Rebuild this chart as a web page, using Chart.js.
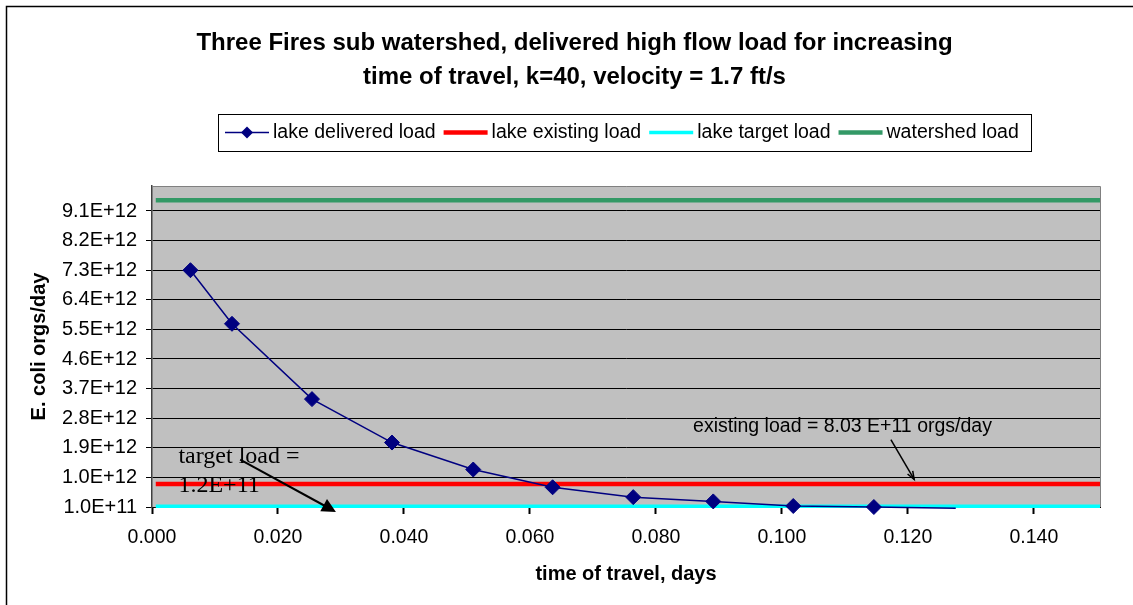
<!DOCTYPE html>
<html>
<head>
<meta charset="utf-8">
<title>Three Fires sub watershed</title>
<script src="https://cdn.jsdelivr.net/npm/chart.js@4.4.1/dist/chart.umd.min.js"></script>
<style>
  html, body { margin: 0; padding: 0; background: #fff; }
</style>
</head>
<body>
<canvas id="chart" width="1133" height="605"></canvas>
<script>
// values
const travelDays = [0.0061, 0.0127, 0.0254, 0.0381, 0.0510, 0.0636, 0.0764, 0.0891, 0.1018, 0.1146, 0.1276];
const deliveredLoad = [7.30e12, 5.67e12, 3.38e12, 2.06e12, 1.24e12, 0.70e12, 0.40e12, 0.27e12, 0.13e12, 0.10e12, 0.06e12];
const lineSpan = [0.0006, 0.1505];
const existingLoad = 8.03e11;
const targetLoad = 1.2e11;
const watershedLoad = 9.43e12;

const yTicks = [1.0e11, 1.0e12, 1.9e12, 2.8e12, 3.7e12, 4.6e12, 5.5e12, 6.4e12, 7.3e12, 8.2e12, 9.1e12];
const yTickLabels = ['1.0E+11', '1.0E+12', '1.9E+12', '2.8E+12', '3.7E+12', '4.6E+12', '5.5E+12', '6.4E+12', '7.3E+12', '8.2E+12', '9.1E+12'];
const xTicks = [0, 0.02, 0.04, 0.06, 0.08, 0.10, 0.12, 0.14];
const xTickLabels = ['0.000', '0.020', '0.040', '0.060', '0.080', '0.100', '0.120', '0.140'];

const yMin = 1.0e11;
const yMax = 9.86e12;
const xMin = 0;
const xMax = 0.1505;

const titleLines = ['Three Fires sub watershed, delivered high flow load for increasing', 'time of travel, k=40, velocity = 1.7 ft/s'];
const SANS = '"Liberation Sans", Arial, sans-serif';
const SERIF = '"Liberation Serif", "Times New Roman", serif';

// notes on the plot, anchored in data units
const targetNote = { lines: ['target load =', '1.2E+11'], x: 0.0042, y: [1.43e12, 0.56e12] };
const targetArrow = { from: [0.0140, 1.54e12], to: [0.0292, -0.05e12] };
const existingNote = { text: 'existing load = 8.03 E+11 orgs/day', x: 0.0859, y: 2.37e12 };
const existingArrow = { from: [0.1173, 2.15e12], to: [0.1210, 0.94e12] };

const toPoints = (xs, ys) => xs.map((x, i) => ({ x: x, y: ys[i] }));
const flat = (v) => lineSpan.map(x => ({ x: x, y: v }));

const plotBackground = {
  id: 'plotBackground',
  beforeDraw(chart) {
    const { ctx, chartArea: a } = chart;
    ctx.save();
    ctx.fillStyle = '#c0c0c0';
    ctx.fillRect(a.left, a.top, a.right - a.left, a.bottom - a.top);
    ctx.restore();
  }
};

function arrowHead(ctx, x0, y0, x1, y1, len, half, filled) {
  const ang = Math.atan2(y1 - y0, x1 - x0);
  const bx = x1 - Math.cos(ang) * len, by = y1 - Math.sin(ang) * len;
  const px = -Math.sin(ang) * half, py = Math.cos(ang) * half;
  ctx.beginPath();
  ctx.moveTo(bx + px, by + py);
  ctx.lineTo(x1, y1);
  ctx.lineTo(bx - px, by - py);
  if (filled) { ctx.closePath(); ctx.fill(); } else ctx.stroke();
}

const decorations = {
  id: 'decorations',
  afterDraw(chart) {
    const { ctx, chartArea: a } = chart;
    const xs = chart.scales.x, ys = chart.scales.y;
    ctx.save();

    // plot area border (top / right)
    ctx.strokeStyle = '#808080';
    ctx.lineWidth = 1;
    ctx.beginPath();
    ctx.moveTo(a.left, a.top + 0.5);
    ctx.lineTo(a.right + 0.5, a.top + 0.5);
    ctx.lineTo(a.right + 0.5, a.bottom);
    ctx.stroke();

    // outer chart frame
    ctx.strokeStyle = '#000';
    ctx.lineWidth = 1.5;
    ctx.beginPath();
    ctx.moveTo(6.5, 605);
    ctx.lineTo(6.5, 6.5);
    ctx.lineTo(1133, 6.5);
    ctx.stroke();

    // title
    ctx.fillStyle = '#000';
    ctx.font = 'bold 24px ' + SANS;
    ctx.textAlign = 'center';
    ctx.textBaseline = 'middle';
    ctx.fillText(titleLines[0], 574.5, 43.5);
    ctx.fillText(titleLines[1], 574.5, 77.5);

    // legend
    ctx.lineWidth = 1;
    ctx.strokeStyle = '#000';
    ctx.fillStyle = '#fff';
    ctx.fillRect(218.5, 114.5, 813, 37);
    ctx.strokeRect(218.5, 114.5, 813, 37);
    ctx.font = '19.5px ' + SANS;
    ctx.textAlign = 'left';
    let lx = 225;
    const ly = 132.5;
    chart.data.datasets.forEach(ds => {
      ctx.strokeStyle = ds.borderColor;
      ctx.lineWidth = ds.borderWidth;
      ctx.beginPath();
      ctx.moveTo(lx, ly);
      ctx.lineTo(lx + 44, ly);
      ctx.stroke();
      if (ds.pointStyle === 'rectRot') {
        ctx.fillStyle = ds.backgroundColor;
        ctx.beginPath();
        ctx.moveTo(lx + 22 - 6, ly);
        ctx.lineTo(lx + 22, ly - 6);
        ctx.lineTo(lx + 22 + 6, ly);
        ctx.lineTo(lx + 22, ly + 6);
        ctx.closePath();
        ctx.fill();
      }
      ctx.fillStyle = '#000';
      ctx.fillText(ds.label, lx + 48, ly);
      lx += 48 + ctx.measureText(ds.label).width + 8;
    });

    // target note
    ctx.fillStyle = '#000';
    ctx.font = '24px ' + SERIF;
    ctx.textBaseline = 'alphabetic';
    targetNote.lines.forEach((t, i) => {
      ctx.fillText(t, xs.getPixelForValue(targetNote.x), ys.getPixelForValue(targetNote.y[i]));
    });
    let x0 = xs.getPixelForValue(targetArrow.from[0]), y0 = ys.getPixelForValue(targetArrow.from[1]);
    let x1 = xs.getPixelForValue(targetArrow.to[0]), y1 = ys.getPixelForValue(targetArrow.to[1]);
    ctx.strokeStyle = '#000';
    ctx.lineWidth = 2;
    ctx.beginPath();
    ctx.moveTo(x0, y0);
    ctx.lineTo(x1 - (x1 - x0) * 0.08, y1 - (y1 - y0) * 0.08);
    ctx.stroke();
    arrowHead(ctx, x0, y0, x1, y1, 14, 7, true);

    // existing note
    ctx.font = '19.5px ' + SANS;
    ctx.fillText(existingNote.text, xs.getPixelForValue(existingNote.x), ys.getPixelForValue(existingNote.y));
    x0 = xs.getPixelForValue(existingArrow.from[0]); y0 = ys.getPixelForValue(existingArrow.from[1]);
    x1 = xs.getPixelForValue(existingArrow.to[0]); y1 = ys.getPixelForValue(existingArrow.to[1]);
    ctx.lineWidth = 1.5;
    ctx.beginPath();
    ctx.moveTo(x0, y0);
    ctx.lineTo(x1, y1);
    ctx.stroke();
    arrowHead(ctx, x0, y0, x1, y1, 8, 3, false);

    ctx.restore();
  }
};

new Chart(document.getElementById('chart'), {
  type: 'scatter',
  data: {
    datasets: [
      {
        label: 'lake delivered load',
        data: toPoints(travelDays, deliveredLoad),
        showLine: true,
        borderColor: '#000080',
        backgroundColor: '#000080',
        borderWidth: 1.5,
        pointStyle: 'rectRot',
        pointRadius: ctx => (ctx.raw && ctx.raw.y < yMin ? 0 : 7.5),
        pointBorderWidth: 1,
        clip: false
      },
      {
        label: 'lake existing load',
        data: flat(existingLoad),
        showLine: true,
        borderColor: '#ff0000',
        backgroundColor: '#ff0000',
        borderWidth: 4.5,
        pointRadius: 0,
        clip: false
      },
      {
        label: 'lake target load',
        data: flat(targetLoad),
        showLine: true,
        borderColor: '#00ffff',
        backgroundColor: '#00ffff',
        borderWidth: 3.5,
        pointRadius: 0,
        clip: false
      },
      {
        label: 'watershed load',
        data: flat(watershedLoad),
        showLine: true,
        borderColor: '#339966',
        backgroundColor: '#339966',
        borderWidth: 4.5,
        pointRadius: 0,
        clip: false
      }
    ]
  },
  options: {
    responsive: false,
    animation: false,
    events: [],
    layout: { padding: { top: 186, right: 33, left: 0, bottom: 0 } },
    plugins: {
      legend: { display: false },
      tooltip: { enabled: false }
    },
    scales: {
      x: {
        type: 'linear',
        min: xMin,
        max: xMax,
        afterBuildTicks: scale => { scale.ticks = xTicks.map(v => ({ value: v })); },
        afterFit: scale => { scale.height = 98; },
        ticks: {
          color: '#000',
          font: { family: SANS, size: 19.5 },
          padding: 12,
          maxRotation: 0,
          autoSkip: false,
          callback: (v, i) => xTickLabels[i]
        },
        grid: { drawOnChartArea: false, drawTicks: true, tickLength: 7, tickColor: '#000', tickWidth: 2 },
        border: { display: true, color: '#000', width: 1 },
        title: {
          display: true,
          text: 'time of travel, days',
          color: '#000',
          font: { family: SANS, size: 20, weight: 'bold' },
          padding: { top: 0, bottom: 19 }
        }
      },
      y: {
        type: 'linear',
        min: yMin,
        max: yMax,
        afterBuildTicks: scale => { scale.ticks = yTicks.map(v => ({ value: v })); },
        afterFit: scale => { scale.width = 152; },
        ticks: {
          color: '#000',
          font: { family: SANS, size: 20 },
          padding: 9,
          autoSkip: false,
          callback: (v, i) => yTickLabels[i]
        },
        grid: { color: '#000', lineWidth: 1, drawTicks: true, tickLength: 6, tickColor: '#000' },
        border: { display: true, color: '#404040', width: 1.5 },
        title: {
          display: true,
          text: 'E. coli orgs/day',
          color: '#000',
          font: { family: SANS, size: 20, weight: 'bold' },
          padding: { top: 27, bottom: 0 }
        }
      }
    }
  },
  plugins: [plotBackground, decorations]
});
</script>
</body>
</html>
